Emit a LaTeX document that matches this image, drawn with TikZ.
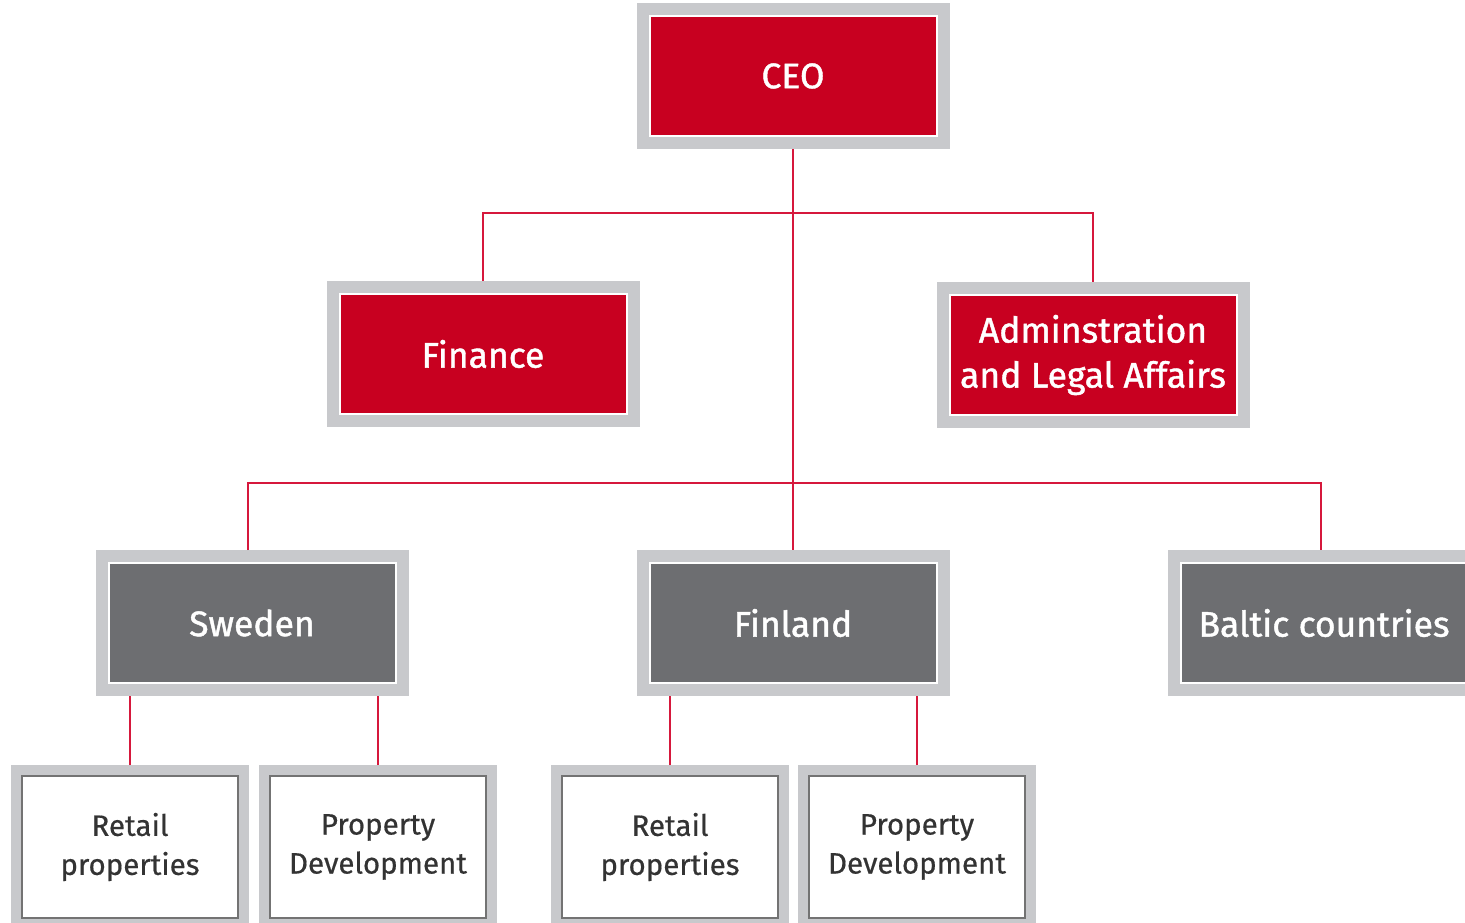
\documentclass[tikz,border=0pt]{standalone}
\usepackage{fontspec}
\setmainfont{Fira Sans}[FakeBold=0.5]
\newfontfamily\unitfont{Fira Sans}[FakeBold=1.2]
\definecolor{boxred}{RGB}{200,0,32}
\definecolor{boxgray}{RGB}{109,110,113}
\definecolor{framegray}{RGB}{200,201,204}
\definecolor{linered}{RGB}{214,24,60}
\colorlet{unitfgcolor}{white}
\colorlet{deptfgcolor}{black!80}

\begin{document}
\begin{tikzpicture}[x=1pt, y=-1pt,
        unit/.style={fill=#1, draw=white, line width=2pt, text=unitfgcolor,
                minimum width=287pt, minimum height=120pt, inner sep=0pt, outer sep=13pt,
                align=center, font=\unitfont\fontsize{35.5}{45}\selectfont,
                preaction={draw=framegray, line width=26pt}},
        dept/.style={fill=white, draw=black!55, line width=1.5pt, text=deptfgcolor,
                minimum width=216pt, minimum height=142pt, inner sep=0pt, outer sep=11pt,
                align=center, font=\fontsize{29.5}{39}\selectfont,
                preaction={draw=framegray, line width=22pt}},
        link/.style={draw=linered, line width=2pt}]
        \clip (0,0) rectangle (1465,923);

        % management
        \node (CEO) [unit=boxred] at (793,76) {CEO};
        \node (Finance) [unit=boxred] at (483,354) {Finance};
        \node (Admin) [unit=boxred] at (1093,355) {Adminstration\\and Legal Affairs};

        % countries
        \node (Sweden) [unit=boxgray] at (252,623) {Sweden};
        \node (Finland) [unit=boxgray] at (793,623) {Finland};
        \node (Baltic) [unit=boxgray] at (1324,623) {Baltic countries};

        % business areas
        \node (RetailSE) [dept] at (130,847) {Retail\\properties};
        \node (PropSE) [dept] at (378,847) {Property\\Development};
        \node (RetailFI) [dept] at (670,847) {Retail\\properties};
        \node (PropFI) [dept] at (917,847) {Property\\Development};

        \coordinate (topbus) at (793,213);
        \coordinate (countrybus) at (793,483);

        \draw [link] (CEO.south) -- (Finland.north);
        \draw [link] (Finance.north) |- (topbus) -| (Admin.north);
        \draw [link] ([xshift=-4pt]Sweden.north) |- (countrybus) -| ([xshift=-3pt]Baltic.north);
        \foreach \d/\u in {RetailSE/Sweden, PropSE/Sweden, RetailFI/Finland, PropFI/Finland}
                \draw [link] (\d.north) -- (\d.north |- \u.south);
\end{tikzpicture}
\end{document}
